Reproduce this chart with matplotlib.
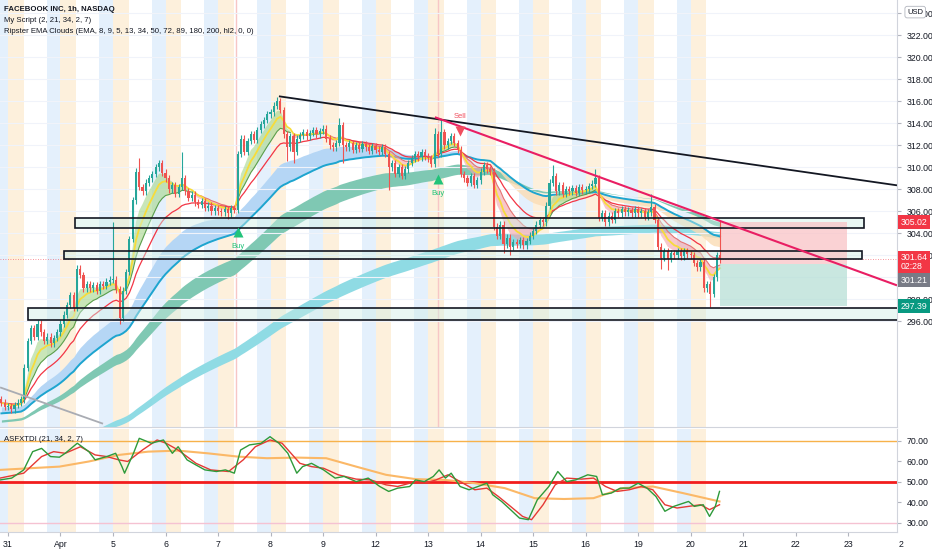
import numpy as np
import pandas as pd
import matplotlib
matplotlib.use("Agg")
from matplotlib import pyplot as plt
from matplotlib.patches import Rectangle
from matplotlib.transforms import blended_transform_factory

plt.rcParams['font.family'] = ['Liberation Sans', 'DejaVu Sans']

BARS_PER_DAY = 16

# hourly closes, one row per session (04:00 - 20:00)
pre_closes = [288.6, 288.2]          # tail of Mar 30
first_open = 288.9
day_closes = [
    [288.3, 288.0, 288.4, 288.6, 288.9, 291.8, 294.2, 295.4, 294.6, 295.8, 295.0, 294.2, 294.6, 294.0, 294.5, 295.0],  # Mar 31
    [295.8, 296.6, 297.5, 298.4, 297.2, 300.8, 300.2, 299.0, 299.4, 299.0, 299.3, 298.8, 299.4, 299.2, 299.6, 299.8],  # Apr 1
    [299.8, 298.9, 296.3, 298.8, 300.5, 303.5, 307.0, 309.6, 308.2, 307.8, 308.6, 309.0, 309.4, 310.0, 310.4, 309.5],  # Apr 5
    [309.0, 308.0, 308.4, 307.6, 308.2, 309.0, 307.8, 307.2, 307.5, 306.8, 306.6, 306.9, 306.3, 306.5, 306.0, 306.3],  # Apr 6
    [306.0, 305.9, 306.2, 305.8, 306.3, 306.1, 311.2, 312.6, 311.4, 312.4, 313.0, 312.5, 313.4, 313.9, 314.3, 314.8],  # Apr 7
    [315.0, 315.6, 316.0, 315.2, 313.0, 311.8, 312.8, 311.4, 312.6, 312.9, 313.2, 312.8, 313.1, 313.4, 313.0, 313.3],  # Apr 8
    [313.5, 312.6, 312.0, 311.8, 312.2, 313.8, 312.0, 311.8, 312.2, 311.6, 312.0, 311.7, 312.1, 311.8, 311.5, 311.9],  # Apr 9
    [311.6, 311.4, 311.8, 311.2, 310.0, 310.4, 309.4, 310.0, 309.2, 309.8, 310.4, 310.8, 311.2, 310.9, 311.4, 311.0],  # Apr 12
    [310.8, 310.3, 313.0, 311.2, 313.2, 312.0, 312.4, 312.8, 312.2, 311.6, 309.4, 309.0, 308.6, 309.2, 308.4, 308.8],  # Apr 13
    [309.6, 310.2, 309.8, 309.6, 304.6, 303.8, 304.8, 303.0, 303.6, 302.8, 303.2, 303.0, 303.4, 302.9, 303.3, 303.8],  # Apr 14
    [304.2, 304.8, 305.2, 305.0, 306.5, 308.6, 309.2, 307.8, 308.4, 307.6, 308.0, 307.8, 308.1, 307.7, 308.2, 307.9],  # Apr 15
    [308.0, 308.3, 308.5, 309.0, 305.4, 305.8, 305.0, 305.6, 305.2, 306.0, 305.8, 306.2, 305.9, 306.1, 305.8, 306.2],  # Apr 16
    [305.8, 306.0, 305.5, 305.9, 306.4, 305.2, 302.8, 301.8, 302.4, 301.7, 302.2, 302.0, 302.4, 301.9, 302.4, 302.1],  # Apr 19
    [302.0, 301.3, 300.9, 301.4, 299.0, 299.4, 298.5, 300.0, 302.0, 301.64],                                          # Apr 20
]
# (session, bar, high, low) for the long wicks
long_wicks = [
    (2, 0, 305.0, None), (2, 2, None, 295.8), (2, 8, 310.8, None), (3, 5, 311.4, None),
    (4, 3, None, 305.3), (5, 2, 316.4, None), (5, 5, None, 310.6), (5, 7, None, 310.4),
    (6, 5, 314.5, None), (6, 6, None, 310.4), (7, 4, None, 307.9), (8, 2, 313.6, None),
    (8, 4, 314.3, None), (9, 7, None, 302.2), (9, 9, None, 302.0), (10, 6, 310.2, None),
    (11, 3, 309.8, None), (12, 4, 307.6, None), (12, 7, None, 300.8), (12, 9, None, 300.7),
    (13, 6, None, 297.3), (13, 9, 305.1, None),
]
day_labels = ['31', 'Apr', '5', '6', '7', '8', '9', '12', '13', '14', '15', '16', '19', '20', '21', '22', '23']

# EMA starting values at the left edge (history before the window)
ema_seed = {34: 288.2, 50: 287.6, 72: 287.0, 89: 286.8, 180: 282.7, 200: 282.4}

# horizontal zones: left day, right day, low, high
zone_left = [1.28, 1.07, 0.38]
zone_right = [16.30, 16.27, 17.5]
zone_low = [304.50, 301.64, 296.15]
zone_high = [305.36, 302.36, 297.20]

# trend lines (day, price) -> (day, price)
trend_lines = [
    ((5.16, 316.45), (16.93, 308.36), '#131722', 1.3),
    ((8.13, 314.55), (16.93, 299.27), '#e91e63', 1.5),
    ((-0.15, 290.0), (1.81, 286.7), '#a9acb3', 1.3),
]

# long position tool
pos_start, pos_end = 13.56, 15.98
pos_entry, pos_stop, pos_target = 301.21, 305.02, 297.39
last_price = 301.64

# My Script signals
buy_day = [4.375, 8.19]
buy_price = [304.1, 308.9]
sell_day = [8.61]
sell_price = [313.3]

# ASFXTDI (day, value)
tdi_green_x = [-0.15, 0.07, 0.30, 0.47, 0.64, 0.81, 0.98, 1.09, 1.32, 1.54, 1.66, 1.88, 2.05, 2.17, 2.22, 2.39,
               2.50, 2.73, 2.96, 3.13, 3.24, 3.41, 3.58, 3.75, 3.97, 4.14, 4.31, 4.43, 4.60, 4.82, 4.99, 5.16,
               5.33, 5.50, 5.61, 5.78, 6.01, 6.23, 6.40, 6.63, 6.86, 7.08, 7.25, 7.42, 7.65, 7.76, 7.93, 8.10,
               8.21, 8.33, 8.44, 8.61, 8.78, 8.95, 9.12, 9.23, 9.40, 9.57, 9.74, 9.91, 10.08, 10.30, 10.47,
               10.64, 10.81, 11.04, 11.21, 11.32, 11.49, 11.66, 11.83, 12.00, 12.17, 12.34, 12.51, 12.68,
               12.96, 13.07, 13.24, 13.36, 13.47, 13.55]
tdi_green = [51.0, 51.9, 55.9, 64.8, 66.4, 62.4, 62.1, 64.0, 68.9, 64.8, 60.8, 62.4, 64.0, 57.5, 54.3, 64.0,
             71.3, 68.9, 70.5, 64.0, 67.2, 60.8, 58.3, 55.9, 55.1, 55.9, 54.3, 65.6, 68.1, 68.9, 72.1, 68.9,
             64.0, 54.3, 57.5, 59.1, 55.9, 51.9, 52.7, 50.2, 51.9, 47.8, 45.4, 47.0, 47.8, 51.0, 50.2, 52.7,
             55.9, 51.9, 54.3, 47.8, 46.2, 47.8, 49.4, 43.8, 40.5, 36.5, 32.4, 31.6, 41.3, 47.8, 55.1,
             50.2, 51.0, 53.5, 52.7, 43.8, 44.6, 47.0, 47.0, 49.4, 47.0, 42.9, 35.7, 38.1,
             40.5, 38.1, 38.9, 33.2, 38.1, 45.4]
tdi_red_x = [-0.15, 0.30, 0.64, 0.87, 1.09, 1.38, 1.66, 1.88, 2.11, 2.28, 2.56, 2.84, 3.01, 3.24, 3.58, 3.86,
             4.20, 4.48, 4.71, 4.99, 5.22, 5.39, 5.56, 5.78, 6.01, 6.29, 6.63, 6.91, 7.20, 7.42, 7.65, 7.93,
             8.15, 8.38, 8.61, 8.89, 9.12, 9.34, 9.57, 9.80, 9.97, 10.19, 10.42, 10.64, 10.92, 11.15, 11.38,
             11.60, 11.83, 12.06, 12.28, 12.51, 12.74, 12.96, 13.19, 13.36, 13.55]
tdi_red = [51.9, 54.3, 62.4, 64.8, 64.0, 67.2, 63.2, 62.4, 60.8, 60.0, 65.6, 70.5, 68.9, 65.6, 59.1, 55.9,
           55.1, 60.8, 67.2, 70.5, 68.9, 64.0, 59.1, 57.5, 56.7, 53.5, 51.4, 51.0, 48.6, 47.8, 49.4, 49.4,
           51.0, 53.5, 50.2, 46.2, 47.0, 42.9, 38.1, 33.2, 31.6, 38.9, 48.6, 51.9, 51.4, 51.9, 47.8,
           45.4, 46.2, 47.8, 46.2, 38.9, 37.3, 38.1, 38.9, 36.5, 38.9]
tdi_base_x = [-0.15, 0.41, 0.98, 1.54, 2.11, 2.67, 3.24, 3.80, 4.37, 4.93, 5.50, 6.06, 6.63, 7.20, 7.76, 8.33,
              8.89, 9.46, 10.03, 10.59, 11.15, 11.72, 12.28, 12.85, 13.55]
tdi_base = [55.9, 56.7, 57.5, 60.0, 63.2, 64.8, 65.3, 64.0, 62.4, 61.6, 61.9, 61.6, 57.5, 53.5, 51.4, 51.0,
            49.4, 47.0, 42.1, 41.7, 42.1, 47.0, 47.8, 44.6, 40.5]


def ema(values, span, seed):
    s = pd.Series(np.r_[seed, values])
    return s.ewm(span=span, adjust=False).mean().to_numpy()[1:]


closes = np.array(pre_closes + [c for day in day_closes for c in day])
opens = np.r_[first_open, closes[:-1]]
pos = (np.arange(len(closes)) - len(pre_closes)) / BARS_PER_DAY
highs = np.maximum(opens, closes) + 0.3
lows = np.minimum(opens, closes) - 0.3
for day, bar, hi, lo in long_wicks:
    i = len(pre_closes) + day * BARS_PER_DAY + bar
    if hi is not None:
        highs[i] = hi
    if lo is not None:
        lows[i] = lo

e = {n: ema(closes, n, closes[0]) for n in (5, 8, 9, 13, 21)}
for n, seed in ema_seed.items():
    e[n] = ema(closes, n, seed)

fig = plt.figure(figsize=(9.32, 5.5), dpi=100)
ax = fig.add_axes([0, 1 - 427 / 550, 897 / 932, 427 / 550])
ax2 = fig.add_axes([0, 18 / 550, 897 / 932, 103 / 550])
x_min, x_max = -0.152, 16.93
last_day = pos[-1]

# session background stripes
for a in (ax, ax2):
    for n in range(-1, 14):
        a.axvspan(n, min(n + 0.3, last_day + 0.03), color='#fdf0dc', lw=0, zorder=0)
        if n + 0.74 < last_day:
            a.axvspan(n + 0.74, n + 1.0, color='#e4f0fc', lw=0, zorder=0)
    a.set_xlim(x_min, x_max)
for d in (4.34, 8.19):
    ax.axvline(d, color='#f7c6c6', lw=1, zorder=0.5)

ax.set_ylim(286.4, 325.2)
ax.set_yticks(np.arange(296, 325, 2))
ax.grid(axis='y', color='#f0f3fa', lw=0.8, zorder=0.2)

# slow clouds
ax.fill_between(pos, e[180], e[200], color='#8fdbe4', lw=0, zorder=1)
ax.fill_between(pos, e[72], e[89], color='#7fc8b3', lw=0, zorder=1.1)
up = e[34] >= e[50]
ax.fill_between(pos, e[34], e[50], where=up, color='#b5d6f5', lw=0, zorder=1.2, interpolate=True)
ax.fill_between(pos, e[34], e[50], where=~up, color='#fbdcb4', alpha=0.8, lw=0, zorder=1.2, interpolate=True)
ax.plot(pos, e[50], color='#1ea5cf', lw=1.4, zorder=2)

# fast clouds
fast_up = e[5] >= e[13]
ax.fill_between(pos, e[5], e[13], where=fast_up, color='#a5d68a', alpha=0.6, lw=0, zorder=2.2, interpolate=True)
ax.fill_between(pos, e[5], e[13], where=~fast_up, color='#f4a3a8', alpha=0.6, lw=0, zorder=2.2, interpolate=True)
ax.plot(pos, np.where(fast_up, e[13], np.nan), color='#5a9e4b', lw=0.8, zorder=2.3)
ax.plot(pos, np.where(~fast_up, e[13], np.nan), color='#e57373', lw=0.8, zorder=2.3)
ax.plot(pos, e[21], color='#f23645', lw=0.9, zorder=2.4)
ax.plot(pos, e[8], color='#f7dc3a', lw=1.3, zorder=2.5)

# zones
for l, r, lo, hi in zip(zone_left, zone_right, zone_low, zone_high):
    ax.add_patch(Rectangle((l, lo), r - l, hi - lo, fc='#cfeee6', alpha=0.45, ec='none', zorder=3))
    ax.add_patch(Rectangle((l, lo), r - l, hi - lo, fc='none', ec='#131722', lw=1.2, zorder=6))

# position tool
ax.add_patch(Rectangle((pos_start, pos_entry), pos_end - pos_start, pos_stop - pos_entry,
                       fc='#f9c4c6', alpha=0.75, ec='none', zorder=3.2))
ax.add_patch(Rectangle((pos_start, pos_target), pos_end - pos_start, pos_entry - pos_target,
                       fc='#b7e0d6', alpha=0.75, ec='none', zorder=3.2))

# candles
bull = closes >= opens
colors = np.where(bull, '#26a69a', '#ef5350')
ax.vlines(pos, lows, highs, colors=colors, lw=0.8, zorder=5)
ax.bar(pos, np.maximum(np.abs(closes - opens), 0.08), bottom=np.minimum(opens, closes),
       width=0.65 / BARS_PER_DAY, color=colors, lw=0, zorder=5)

for (x0, p0), (x1, p1), col, w in trend_lines:
    ax.plot([x0, x1], [p0, p1], color=col, lw=w, zorder=7, solid_capstyle='butt')

ax.plot(buy_day, buy_price, '^', color='#22c37a', ms=7, mec='none', zorder=8)
for d, p in zip(buy_day, buy_price):
    ax.text(d, p - 1.3, 'Buy', color='#22c37a', fontsize=5.5, ha='center', va='center', zorder=8)
ax.plot(sell_day, sell_price, 'v', color='#f04e5e', ms=7, mec='none', zorder=8)
for d, p in zip(sell_day, sell_price):
    ax.text(d, p + 1.3, 'Sell', color='#f04e5e', fontsize=5.5, ha='center', va='center', zorder=8)

ax.axhline(last_price, color='#f23645', lw=0.6, ls=(0, (1, 2)), alpha=0.7, zorder=4)

# price axis (300.00 sits under the price labels)
ax.yaxis.tick_right()
ax.yaxis.set_major_formatter(matplotlib.ticker.FuncFormatter(lambda v, _: '' if abs(v - 300) < 0.1 else f'{v:.2f}'))
ax.tick_params(axis='y', length=3, color='#b2b5be', labelsize=6.3, labelcolor='#131722', pad=4)
ax.set_xticks([])
for s in ('top', 'left'):
    ax.spines[s].set_visible(False)
ax.spines['right'].set_color('#d1d4dc')
ax.spines['bottom'].set_color('#d1d4dc')

tr = blended_transform_factory(ax.transAxes, ax.transData)
box_kw = dict(transform=tr, ha='left', fontsize=6.3, color='white', clip_on=False, zorder=10)
ax.text(1.004, pos_stop, '305.02', va='center',
        bbox=dict(boxstyle='square,pad=0.28', fc='#f23645', ec='none'), **box_kw)
ax.text(1.004, 302.2, '301.64\n02:28', va='top', linespacing=1.05,
        bbox=dict(boxstyle='square,pad=0.28', fc='#f23645', ec='none'), **box_kw)
ax.text(1.004, 299.75, '301.21', va='center',
        bbox=dict(boxstyle='square,pad=0.28', fc='#787b86', ec='none'), **box_kw)
ax.text(1.004, pos_target, '297.39', va='center',
        bbox=dict(boxstyle='square,pad=0.28', fc='#089981', ec='none'), **box_kw)
fig.text(0.982, 0.978, 'USD', fontsize=5.5, color='#131722', ha='center', va='center',
         bbox=dict(boxstyle='round,pad=0.3', fc='white', ec='#b2b5be', lw=0.6))

# legend texts
fig.text(0.004, 0.982, 'FACEBOOK INC, 1h, NASDAQ', fontsize=5.6, fontweight='bold', color='#131722', va='center')
fig.text(0.004, 0.962, 'My Script (2, 21, 34, 2, 7)', fontsize=5.6, color='#131722', va='center')
fig.text(0.004, 0.942, 'Ripster EMA Clouds (EMA, 8, 9, 5, 13, 34, 50, 72, 89, 180, 200, hl2, 0, 0)',
         fontsize=5.6, color='#131722', va='center')

# ASFXTDI pane
ax2.set_ylim(25.6, 75.85)
ax2.axhline(70, color='#f7b24a', lw=1, zorder=1)
ax2.axhline(50, color='#f21d1d', lw=2, zorder=1)
ax2.axhline(30, color='#f5c2d2', lw=1, zorder=1)
ax2.plot(tdi_base_x, tdi_base, color='#fbb867', lw=1.5, zorder=2)
ax2.plot(tdi_red_x, tdi_red, color='#e53935', lw=1, zorder=3)
ax2.plot(tdi_green_x, tdi_green, color='#2e9a3a', lw=1, zorder=4)
ax2.text(0.004, 0.9, 'ASFXTDI (21, 34, 2, 7)', transform=ax2.transAxes, fontsize=5.6, color='#131722', va='center')
ax2.yaxis.tick_right()
ax2.set_yticks([30, 40, 50, 60, 70])
ax2.yaxis.set_major_formatter(matplotlib.ticker.StrMethodFormatter('{x:.2f}'))
ax2.tick_params(axis='y', length=3, color='#b2b5be', labelsize=6.3, labelcolor='#131722', pad=4)
ax2.set_xticks(range(len(day_labels)))
ax2.set_xticklabels(day_labels)
ax2.tick_params(axis='x', length=3, color='#b2b5be', labelsize=6.3, labelcolor='#131722', pad=3)
ax2.text(17, -0.08, '2', transform=blended_transform_factory(ax2.transData, ax2.transAxes),
         fontsize=6.3, color='#131722', ha='center', va='top', clip_on=False)
ax2.spines['top'].set_visible(False)
ax2.spines['left'].set_visible(False)
ax2.spines['right'].set_color('#d1d4dc')
ax2.spines['bottom'].set_color('#d1d4dc')

fig.savefig('out.png', dpi=100, facecolor='white')
